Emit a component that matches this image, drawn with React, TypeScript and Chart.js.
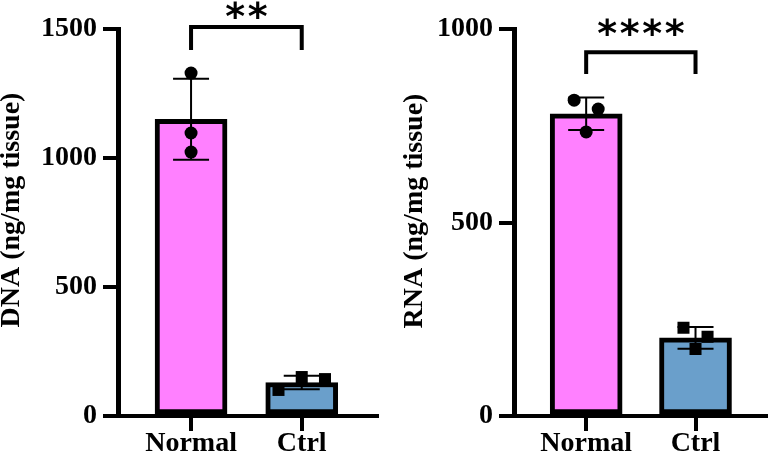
import React, { useEffect, useRef } from 'react';
import { Chart, registerables } from 'chart.js';
Chart.register(...registerables);

// ---- data ----
const categories = ['Normal', 'Ctrl'];
const barColors = ['#FF80FF', '#6A9FCB'];

const dnaMeans = [1150, 130];
const dnaSD = [157, 26];
const dnaPoints = [
  [1329, 1097, 1023],
  [101, 151, 143],
];
const dnaJitter = [
  [0, 0, 0],
  [-0.21, 0, 0.21],
];
const dnaTicks = [0, 500, 1000, 1500];
const dnaSig = '**';

const rnaMeans = [781, 202];
const rnaSD = [42, 28];
const rnaPoints = [
  [816, 793, 734],
  [228, 205, 173],
];
const rnaJitter = [
  [-0.11, 0.11, 0],
  [-0.11, 0.11, 0],
];
const rnaTicks = [0, 500, 1000];
const rnaSig = '****';

const SERIF = '"Liberation Serif", "Times New Roman", serif';
const FONT_SIZE = 28;

interface PanelSpec {
  title: string;
  means: number[];
  sds: number[];
  points: number[][];
  jitter: number[][];
  ticks: number[];
  yMax: number;
  xMin: number;
  xMax: number;
  axisWidth: number;
  padRight: number;
  titleX: number;
  titleY: number;
  bracketTop: number;
  bracketLeg: number;
  starY: number;
  sig: string;
}

function makeConfig(p: PanelSpec): any {
  const scatterData: any[] = [];
  const styles: string[] = [];
  const radii: number[] = [];
  p.points.forEach((arr, ci) => {
    arr.forEach((v, k) => {
      scatterData.push({ x: ci + p.jitter[ci][k], y: v });
      styles.push(ci === 0 ? 'circle' : 'rect');
      radii.push(ci === 0 ? 6.5 : 8.5);
    });
  });

  const overlay = {
    id: 'overlay',
    afterDatasetsDraw(chart: any) {
      const { ctx, scales } = chart;
      const x = scales.x;
      const y = scales.y;
      ctx.save();
      // error bars
      ctx.strokeStyle = '#000';
      ctx.lineWidth = 2;
      p.means.forEach((m, i) => {
        const px = x.getPixelForValue(i);
        const top = y.getPixelForValue(m + p.sds[i]);
        const bot = y.getPixelForValue(m - p.sds[i]);
        ctx.beginPath();
        ctx.moveTo(px, top);
        ctx.lineTo(px, bot);
        ctx.moveTo(px - 18, top);
        ctx.lineTo(px + 18, top);
        ctx.moveTo(px - 18, bot);
        ctx.lineTo(px + 18, bot);
        ctx.stroke();
      });
      // bracket
      const x0 = x.getPixelForValue(0);
      const x1 = x.getPixelForValue(1);
      const yt = y.getPixelForValue(p.bracketTop);
      const yl = y.getPixelForValue(p.bracketLeg);
      ctx.lineWidth = 4;
      ctx.lineJoin = 'miter';
      ctx.lineCap = 'butt';
      ctx.beginPath();
      ctx.moveTo(x0, yl);
      ctx.lineTo(x0, yt);
      ctx.lineTo(x1, yt);
      ctx.lineTo(x1, yl);
      ctx.stroke();
      // stars
      ctx.fillStyle = '#000';
      ctx.font = 'bold 38px "DejaVu Sans", sans-serif';
      ctx.textAlign = 'center';
      ctx.textBaseline = 'alphabetic';
      const cx = (x0 + x1) / 2;
      const cy = y.getPixelForValue(p.starY);
      const n = p.sig.length;
      const m = ctx.measureText('*');
      const off = (m.actualBoundingBoxAscent - m.actualBoundingBoxDescent) / 2;
      for (let i = 0; i < n; i++) {
        ctx.fillText('*', cx + (i - (n - 1) / 2) * 22.5, cy + off);
      }
      // y title
      ctx.font = `bold ${FONT_SIZE}px ${SERIF}`;
      ctx.textBaseline = 'middle';
      ctx.translate(p.titleX, p.titleY);
      ctx.rotate(-Math.PI / 2);
      ctx.fillText(p.title, 0, 0);
      ctx.restore();
    },
  };

  return {
    type: 'bar',
    data: {
      datasets: [
        {
          type: 'scatter',
          data: scatterData,
          pointStyle: styles,
          pointRadius: radii,
          pointBackgroundColor: '#000',
          pointBorderWidth: 0,
          order: 1,
        },
        {
          type: 'bar',
          data: p.means.map((v, i) => ({ x: i, y: v })),
          backgroundColor: barColors,
          borderColor: '#000',
          borderWidth: 5,
          borderSkipped: false,
          barThickness: 72,
          order: 2,
        },
      ],
    },
    options: {
      responsive: false,
      animation: false,
      events: [],
      layout: { padding: { top: 29, right: p.padRight, left: 0, bottom: 0 } },
      plugins: { legend: { display: false }, tooltip: { enabled: false } },
      scales: {
        x: {
          type: 'linear',
          min: p.xMin,
          max: p.xMax,
          offset: false,
          grid: {
            display: true,
            offset: false,
            drawOnChartArea: false,
            drawTicks: true,
            tickLength: 15,
            lineWidth: 4,
            color: '#000',
          },
          border: { display: true, width: 4, color: '#000' },
          afterBuildTicks: (s: any) => {
            s.ticks = categories.map((_, i) => ({ value: i }));
          },
          afterFit: (s: any) => {
            s.height = 37;
          },
          ticks: {
            callback: (v: any) => categories[v],
            font: { family: SERIF, size: FONT_SIZE, weight: 'bold' },
            color: '#000',
            padding: -4,
            maxRotation: 0,
            autoSkip: false,
          },
        },
        y: {
          type: 'linear',
          min: 0,
          max: p.yMax,
          grid: {
            display: true,
            offset: false,
            drawOnChartArea: false,
            drawTicks: true,
            tickLength: 15,
            lineWidth: 4,
            color: '#000',
          },
          border: { display: true, width: 5, color: '#000' },
          afterBuildTicks: (s: any) => {
            s.ticks = p.ticks.map((v) => ({ value: v }));
          },
          afterFit: (s: any) => {
            s.width = p.axisWidth;
          },
          ticks: {
            callback: (v: any) => String(v),
            font: { family: SERIF, size: FONT_SIZE, weight: 'bold' },
            color: '#000',
            padding: 6,
          },
        },
      },
    },
    plugins: [overlay],
  };
}

const dnaSpec: PanelSpec = {
  title: 'DNA (ng/mg tissue)',
  means: dnaMeans,
  sds: dnaSD,
  points: dnaPoints,
  jitter: dnaJitter,
  ticks: dnaTicks,
  yMax: 1500,
  xMin: -0.66,
  xMax: 1.68,
  axisWidth: 118,
  padRight: 10,
  titleX: 12,
  titleY: 210,
  bracketTop: 1508,
  bracketLeg: 1419,
  starY: 1574,
  sig: dnaSig,
};

const rnaSpec: PanelSpec = {
  title: 'RNA (ng/mg tissue)',
  means: rnaMeans,
  sds: rnaSD,
  points: rnaPoints,
  jitter: rnaJitter,
  ticks: rnaTicks,
  yMax: 1000,
  xMin: -0.66,
  xMax: 1.64,
  axisWidth: 127,
  padRight: 5,
  titleX: 28,
  titleY: 211,
  bracketTop: 940,
  bracketLeg: 884,
  starY: 1004,
  sig: rnaSig,
};

function Panel({ spec, left }: { spec: PanelSpec; left: number }) {
  const ref = useRef<HTMLCanvasElement>(null);
  useEffect(() => {
    const c = new Chart(ref.current as HTMLCanvasElement, makeConfig(spec));
    return () => c.destroy();
  }, [spec]);
  return (
    <canvas
      ref={ref}
      width={387}
      height={453}
      style={{ position: 'absolute', left, top: 0, width: 387, height: 453, display: 'block' }}
    />
  );
}

export default function App() {
  return (
    <div style={{ position: 'fixed', left: 0, top: 0, width: 774, height: 453, background: '#fff', overflow: 'hidden' }}>
      <Panel spec={dnaSpec} left={0} />
      <Panel spec={rnaSpec} left={387} />
    </div>
  );
}
